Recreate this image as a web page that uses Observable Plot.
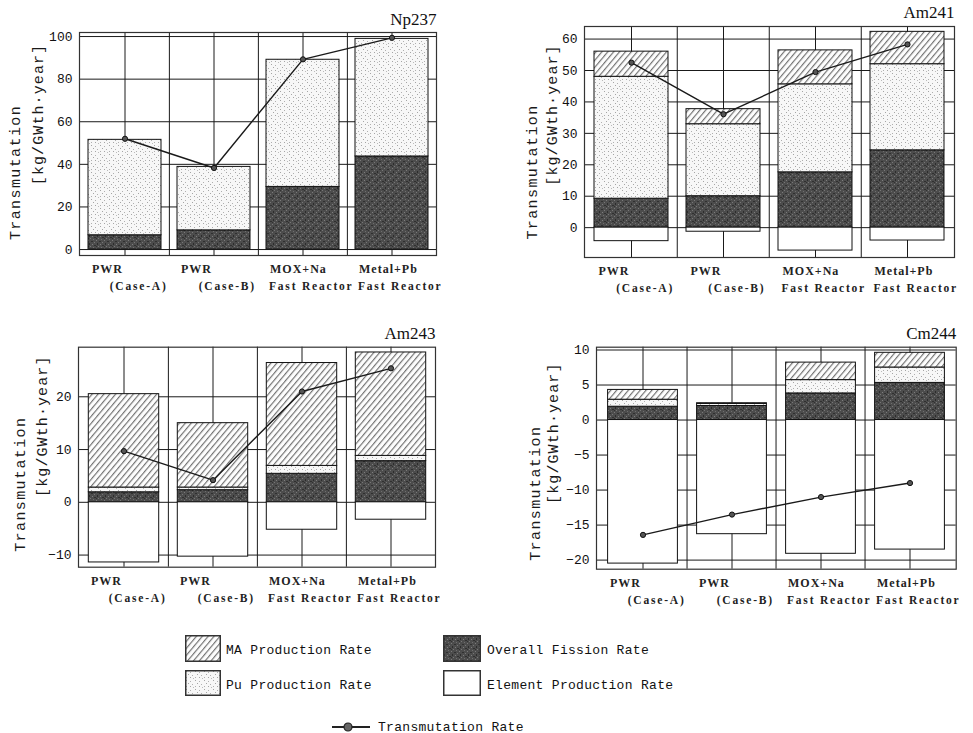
<!DOCTYPE html>
<html><head><meta charset="utf-8">
<script src="https://cdn.jsdelivr.net/npm/d3@7"></script>
<script src="https://cdn.jsdelivr.net/npm/@observablehq/plot@0.6"></script>
<style>
body{margin:0;background:#fff;}
#root{position:relative;width:973px;height:733px;overflow:hidden;background:#fff;}
.panel{position:absolute;}
.leg{position:absolute;font-family:"Liberation Mono",monospace;font-size:13px;line-height:15px;color:#111;white-space:nowrap;letter-spacing:0.3px;}
.sw{position:absolute;}
</style></head>
<body>
<svg width="0" height="0" style="position:absolute">
<defs>
<pattern id="hatch" patternUnits="userSpaceOnUse" width="4.5" height="4.5" patternTransform="rotate(40)">
<rect width="4.5" height="4.5" fill="#fdfdfd"/>
<line x1="0.6" y1="0" x2="0.6" y2="4.5" stroke="#6a6a6a" stroke-width="1.1"/>
</pattern>
<pattern id="stipple" patternUnits="userSpaceOnUse" width="9" height="9">
<rect width="9" height="9" fill="#f7f7f7"/>
<rect x="1" y="1" width="1" height="1" fill="#a5a5a5"/>
<rect x="5" y="2" width="1" height="1" fill="#b0b0b0"/>
<rect x="3" y="4" width="1" height="1" fill="#a5a5a5"/>
<rect x="7" y="5" width="1" height="1" fill="#b0b0b0"/>
<rect x="1" y="7" width="1" height="1" fill="#b0b0b0"/>
<rect x="5" y="7" width="1" height="1" fill="#a5a5a5"/>
<rect x="8" y="8" width="1" height="1" fill="#bbb"/>
</pattern>
<pattern id="fission" patternUnits="userSpaceOnUse" width="8" height="8">
<rect width="8" height="8" fill="#4c4c4c"/>
<rect x="0" y="0" width="1" height="1" fill="#7a7a7a"/>
<rect x="3" y="1" width="2" height="1" fill="#303030"/>
<rect x="6" y="2" width="1" height="1" fill="#777"/>
<rect x="1" y="3" width="1" height="2" fill="#2c2c2c"/>
<rect x="4" y="4" width="1" height="1" fill="#7d7d7d"/>
<rect x="6" y="5" width="2" height="1" fill="#303030"/>
<rect x="2" y="6" width="1" height="1" fill="#777"/>
<rect x="5" y="7" width="1" height="1" fill="#6e6e6e"/>
<rect x="0" y="6" width="1" height="1" fill="#303030"/>
</pattern>
</defs></svg>
<div id="root"></div>
<script>
// ---------- data ----------
const reactors = ["PWR-A", "PWR-B", "MOX+Na", "Metal+Pb"];
const labelLine1 = ["PWR", "PWR", "MOX+Na", "Metal+Pb"];
const labelLine2 = ["\u00a0\u00a0\u00a0\u00a0(Case-A)", "\u00a0\u00a0\u00a0\u00a0(Case-B)", "Fast Reactor", "Fast Reactor"];
const seriesNames = ["MA", "Pu", "Fission", "Element"];

const np237Fission = [6.7, 9.0, 29.4, 43.7];
const np237Pu      = [44.8, 29.8, 59.7, 55.2];
const np237MA      = [0, 0, 0, 0];
const np237Element = [0, 0, 0, 0];
const np237Trans   = [52.0, 38.3, 89.3, 99.4];

const am241Fission = [9.2, 10.0, 17.6, 24.6];
const am241Pu      = [38.8, 22.9, 28.0, 27.4];
const am241MA      = [8.0, 4.8, 10.8, 10.3];
const am241Element = [-4.3, -1.3, -7.3, -4.1];
const am241Trans   = [52.5, 36.1, 49.5, 58.3];

const am243Fission = [1.9, 2.3, 5.4, 7.8];
const am243Pu      = [0.9, 0.5, 1.5, 1.0];
const am243MA      = [17.7, 12.2, 19.5, 19.6];
const am243Element = [-11.4, -10.3, -5.2, -3.3];
const am243Trans   = [9.7, 4.2, 21.0, 25.4];

const cm244Fission = [1.9, 2.0, 3.8, 5.3];
const cm244Pu      = [1.0, 0.3, 1.9, 2.2];
const cm244MA      = [1.4, 0.1, 2.5, 2.1];
const cm244Element = [-20.5, -16.3, -19.1, -18.5];
const cm244Trans   = [-16.4, -13.5, -11.0, -9.0];

const np237Ticks = [0, 20, 40, 60, 80, 100];
const am241Ticks = [0, 10, 20, 30, 40, 50, 60];
const am243Ticks = [-10, 0, 10, 20];
const cm244Ticks = [-20, -15, -10, -5, 0, 5, 10];

// ---------- styles ----------
const seriesFills = ["url(#hatch)", "url(#stipple)", "url(#fission)", "#ffffff"];

function panel(cfg) {
  const rows = [];
  reactors.forEach((r, i) => {
    [["Fission", cfg.fission], ["Pu", cfg.pu], ["MA", cfg.ma], ["Element", cfg.element]].forEach(([s, arr]) => {
      if (arr[i] !== 0) rows.push({reactor: r, series: s, value: arr[i]});
    });
  });
  const trans = reactors.map((r, i) => ({reactor: r, value: cfg.trans[i]}));
  const labels = reactors.map((r, i) => ({reactor: r, l1: labelLine1[i], l2: labelLine2[i]}));
  const m = cfg.margin;
  const step = (cfg.width - m.left - m.right) / reactors.length;
  const chart = Plot.plot({
    width: cfg.width, height: cfg.height,
    marginTop: m.top, marginRight: m.right, marginBottom: m.bottom, marginLeft: m.left,
    style: {fontFamily: "Liberation Mono, monospace", fontSize: "13px", background: "transparent", color: "#111"},
    x: {domain: reactors, padding: 0, axis: null},
    y: {domain: cfg.domain, ticks: cfg.ticks, tickSize: 0, tickPadding: 7, label: null},
    color: {type: "ordinal", domain: seriesNames, range: seriesFills},
    marks: [
      Plot.ruleY(cfg.ticks, {stroke: "#1a1a1a", strokeWidth: 1}),
      Plot.ruleX(reactors, {stroke: "#1a1a1a", strokeWidth: 1}),
      Plot.ruleX(reactors.slice(1), {stroke: "#1a1a1a", strokeWidth: 1, dx: -step / 2}),
      Plot.barY(rows, {x: "reactor", y: "value", fill: "series", stroke: "#111", strokeWidth: 1,
        insetLeft: cfg.inset, insetRight: cfg.inset}),
      Plot.frame({stroke: "#333", strokeWidth: 1.2}),
      Plot.line(trans, {x: "reactor", y: "value", stroke: "#1a1a1a", strokeWidth: 1.4}),
      Plot.dot(trans, {x: "reactor", y: "value", r: 2.6, fill: "#555", stroke: "#111", strokeWidth: 1}),
      Plot.text([cfg.title], {text: d => d, frameAnchor: "top-right", dy: cfg.titleDy, textAnchor: "end",
        lineAnchor: "bottom", fontFamily: "Liberation Serif, serif", fontSize: 17, fill: "#111"}),
      Plot.text(["Transmutation"], {text: d => d, frameAnchor: "left", rotate: -90, dx: cfg.yl[0], dy: cfg.yl[1],
        textAnchor: "middle", lineAnchor: "middle", fontSize: 15, fontFamily: "Liberation Mono, monospace", fill: "#1a1a1a"}),
      Plot.text(["[kg/GWth\u00b7year]"], {text: d => d, frameAnchor: "left", rotate: -90, dx: cfg.yl[2], dy: cfg.yl[3],
        textAnchor: "middle", lineAnchor: "middle", fontSize: 15, fontFamily: "Liberation Mono, monospace", fill: "#1a1a1a"}),
      Plot.text(labels, {x: "reactor", text: "l1", frameAnchor: "bottom", dy: 14, dx: -33, textAnchor: "start",
        lineAnchor: "middle", fontFamily: "Liberation Serif, serif", fontSize: 12, fontWeight: "bold", fill: "#222"}),
      Plot.text(labels, {x: "reactor", text: "l2", frameAnchor: "bottom", dy: 31, dx: -34, textAnchor: "start",
        lineAnchor: "middle", fontFamily: "Liberation Serif, serif", fontSize: 11.5, fontWeight: "bold", fill: "#222"})
    ]
  });
  const texts = chart.querySelectorAll('g[aria-label="text"]');
  const spacing = [0, 1.4, 1.1, 1, 1.8];
  texts.forEach((g, i) => { if (spacing[i]) g.setAttribute("letter-spacing", spacing[i]); });
  const div = document.createElement("div");
  div.className = "panel";
  div.style.left = cfg.left + "px";
  div.style.top = cfg.top + "px";
  div.appendChild(chart);
  document.getElementById("root").appendChild(div);
}

panel({title: "Np237", fission: np237Fission, pu: np237Pu, ma: np237MA, element: np237Element, trans: np237Trans,
  domain: [-2.8, 101.9], ticks: np237Ticks, left: 0, top: 0, width: 486, height: 300,
  margin: {top: 32, right: 50, bottom: 45, left: 79}, inset: 8, titleDy: -8, yl: [-64, 28.5, -41, -29.5]});
panel({title: "Am241", fission: am241Fission, pu: am241Pu, ma: am241MA, element: am241Element, trans: am241Trans,
  domain: [-9.5, 64], ticks: am241Ticks, left: 486, top: 0, width: 487, height: 300,
  margin: {top: 26, right: 19, bottom: 43, left: 98}, inset: 9, titleDy: -9, yl: [-52, 30, -32, -27]});
panel({title: "Am243", fission: am243Fission, pu: am243Pu, ma: am243MA, element: am243Element, trans: am243Trans,
  domain: [-12.3, 29.4], ticks: am243Ticks, left: 0, top: 300, width: 486, height: 310,
  margin: {top: 46.7, right: 51, bottom: 43.3, left: 78}, inset: 9.3, titleDy: -8, yl: [-58, 27, -36, -31]});
panel({title: "Cm244", fission: cm244Fission, pu: cm244Pu, ma: cm244MA, element: cm244Element, trans: cm244Trans,
  domain: [-21.3, 10.4], ticks: cm244Ticks, left: 486, top: 300, width: 487, height: 310,
  margin: {top: 46.7, right: 17.3, bottom: 41.3, left: 110}, inset: 9.6, titleDy: -8, yl: [-61, 35, -43, -25]});

// ---------- legend ----------
const legendItems = [
  {label: "MA Production Rate", fill: seriesFills[0], x: 185, y: 635, w: 36, h: 27, tx: 226, ty: 650},
  {label: "Pu Production Rate", fill: seriesFills[1], x: 185, y: 670, w: 36, h: 26, tx: 226, ty: 685},
  {label: "Overall Fission Rate", fill: seriesFills[2], x: 443, y: 635, w: 38, h: 27, tx: 487, ty: 650},
  {label: "Element Production Rate", fill: seriesFills[3], x: 443, y: 670, w: 38, h: 26, tx: 487, ty: 685}
];
const root = document.getElementById("root");
legendItems.forEach(it => {
  const s = document.createElementNS("http://www.w3.org/2000/svg", "svg");
  s.setAttribute("class", "sw");
  s.setAttribute("width", it.w); s.setAttribute("height", it.h);
  s.style.left = it.x + "px"; s.style.top = it.y + "px";
  s.innerHTML = `<rect x="0.75" y="0.75" width="${it.w - 1.5}" height="${it.h - 1.5}" fill="${it.fill}" stroke="#333" stroke-width="1.5"/>`;
  root.appendChild(s);
  const t = document.createElement("div");
  t.className = "leg"; t.textContent = it.label;
  t.style.left = it.tx + "px"; t.style.top = (it.ty - 7.5) + "px";
  root.appendChild(t);
});
const ls = document.createElementNS("http://www.w3.org/2000/svg", "svg");
ls.setAttribute("class", "sw"); ls.setAttribute("width", 42); ls.setAttribute("height", 12);
ls.style.left = "330px"; ls.style.top = "721px";
ls.innerHTML = `<line x1="2" y1="6" x2="40" y2="6" stroke="#222" stroke-width="2"/><circle cx="18" cy="6" r="4" fill="#666" stroke="#222" stroke-width="1.2"/>`;
root.appendChild(ls);
const lt = document.createElement("div");
lt.className = "leg"; lt.textContent = "Transmutation Rate";
lt.style.left = "378px"; lt.style.top = (727 - 7.5) + "px";
root.appendChild(lt);
</script>
</body></html>
